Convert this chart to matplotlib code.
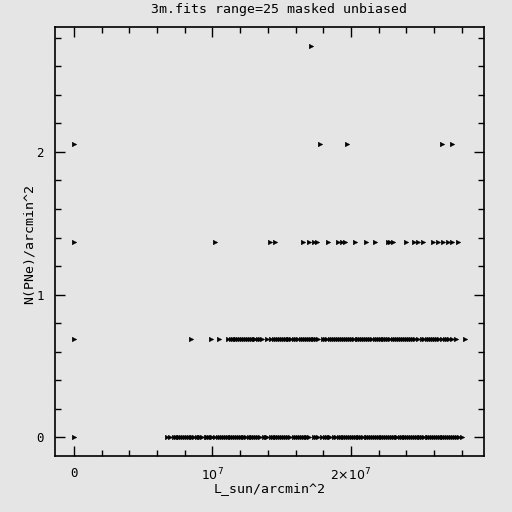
import matplotlib
matplotlib.use("Agg")
import matplotlib.pyplot as plt
from matplotlib.ticker import MultipleLocator, FixedLocator, FixedFormatter

# data (x in units of 1e6 L_sun/arcmin^2)
unit = 0.686
row0_x = [0, 6.7, 6.9, 7.2, 7.35, 7.5, 7.6, 7.75, 7.9, 8.0, 8.15, 8.3, 8.45, 8.55, 8.7, 8.85, 9.0, 9.1,
          9.25, 9.5, 9.6, 9.75, 9.9, 10.0, 10.15, 10.4, 10.55, 10.7, 10.8, 10.95, 11.1, 11.25, 11.35,
          11.5, 11.65, 11.8, 11.9, 12.05, 12.2, 12.3, 12.45, 12.6, 12.75, 12.85, 13.0, 13.15, 13.3,
          13.45, 13.7, 13.85, 13.95, 14.2, 14.35, 14.5, 14.6, 14.75, 14.9, 15.05, 15.15, 15.3, 15.45,
          15.6, 15.9, 16.05, 16.2, 16.3, 16.45, 16.6, 16.75, 16.85, 17.0, 17.3, 17.45, 17.6, 17.9,
          18.1, 18.25, 18.4, 18.5, 18.8, 18.95, 19.1, 19.25, 19.4, 19.5, 19.65, 19.8, 19.95, 20.05,
          20.2, 20.35, 20.5, 20.6, 20.75, 20.9, 21.05, 21.15, 21.3, 21.45, 21.6, 21.7, 21.85, 22.0,
          22.15, 22.25, 22.4, 22.55, 22.7, 22.8, 22.95, 23.1, 23.25, 23.35, 23.5, 23.65, 23.8, 23.9,
          24.05, 24.2, 24.35, 24.45, 24.6, 24.75, 24.9, 25.0, 25.15, 25.3, 25.45, 25.55, 25.7, 25.85,
          26.0, 26.1, 26.25, 26.4, 26.55, 26.65, 26.8, 26.95, 27.1, 27.2, 27.35, 27.5, 27.65, 27.8, 28.0]
row1_x = [0, 8.45, 9.87, 10.47, 11.15, 11.3, 11.45, 11.6, 11.7, 11.85, 12.0, 12.15, 12.3, 12.4, 12.55,
          12.7, 12.85, 13.0, 13.1, 13.25, 13.4, 13.55, 13.9, 14.25, 14.45, 14.6, 14.75, 14.9, 15.0,
          15.15, 15.3, 15.45, 15.55, 15.7, 15.85, 16.0, 16.2, 16.4, 16.55, 16.7, 16.8, 16.95, 17.1,
          17.25, 17.35, 17.5, 17.65, 17.95, 18.15, 18.3, 18.45, 18.6, 18.75, 18.9, 19.05, 19.2, 19.35,
          19.5, 19.65, 19.8, 19.95, 20.1, 20.25, 20.4, 20.5, 20.65, 20.8, 20.95, 21.1, 21.25, 21.4,
          21.55, 21.7, 21.85, 22.0, 22.15, 22.3, 22.4, 22.55, 22.7, 22.85, 23.0, 23.15, 23.3, 23.45,
          23.6, 23.75, 23.9, 24.05, 24.2, 24.35, 24.5, 24.65, 24.8, 25.1, 25.3, 25.45, 25.6, 25.75,
          25.9, 26.05, 26.2, 26.35, 26.6, 26.8, 26.95, 27.1, 27.3, 27.6, 28.2]
row2_x = [0, 10.18, 14.15, 14.5, 16.5, 17.0, 17.33, 17.57, 18.36, 19.08, 19.33, 19.57, 20.3, 21.1, 21.7,
          22.65, 22.8, 23.0, 24.0, 24.57, 24.86, 25.2, 25.94, 26.3, 26.67, 27.0, 27.3, 27.7]
row3_x = [0, 17.76, 19.7, 26.6, 27.3]
row4_x = [17.11]
rows = [(0, row0_x), (1, row1_x), (2, row2_x), (3, row3_x), (4, row4_x)]

title = "3m.fits range=25 masked unbiased"
xlabel = "L_sun/arcmin^2"
ylabel = "N(PNe)/arcmin^2"
xticks = [0, 1e7, 2e7]
xticklabels = ["0", r"$10^7$", r"$2{\times}10^7$"]
yticks = [0, 1, 2]

bg = "#e5e5e5"
plt.rcParams['font.family'] = ['DejaVu Sans Mono']
plt.rcParams['mathtext.fontset'] = 'dejavusans'

fig = plt.figure(figsize=(5.12, 5.12), dpi=100, facecolor=bg)
ax = fig.add_axes([55/512, 1-456/512, 429/512, 429/512], facecolor=bg)

for k, xs in rows:
    ax.plot([x*1e6 for x in xs], [k*unit]*len(xs), linestyle='none', marker='>',
            markersize=3.3, color='black', markeredgewidth=0.3)

ax.set_xlim(-1.37e6, 2.96e7)
ax.set_ylim(-0.133, 2.877)

ax.xaxis.set_major_locator(FixedLocator(xticks))
ax.xaxis.set_major_formatter(FixedFormatter(xticklabels))
ax.xaxis.set_minor_locator(MultipleLocator(2e6))
ax.yaxis.set_major_locator(FixedLocator(yticks))
ax.yaxis.set_minor_locator(MultipleLocator(0.2))

ax.tick_params(which='both', direction='in', top=True, right=True, color='black', width=1)
ax.tick_params(which='major', length=7, labelsize=9, pad=8)
ax.tick_params(which='minor', length=4)
for s in ax.spines.values():
    s.set_linewidth(1.2)

fig.text(279/512, 1-9/512, title, ha='center', va='center', fontsize=9.5)
fig.text(270/512, 1-489/512, xlabel, ha='center', va='center', fontsize=9.5)
fig.text(29/512, 1-244/512, ylabel, ha='center', va='center', fontsize=9.5, rotation=90)

fig.savefig("out.png", dpi=100, facecolor=bg)
